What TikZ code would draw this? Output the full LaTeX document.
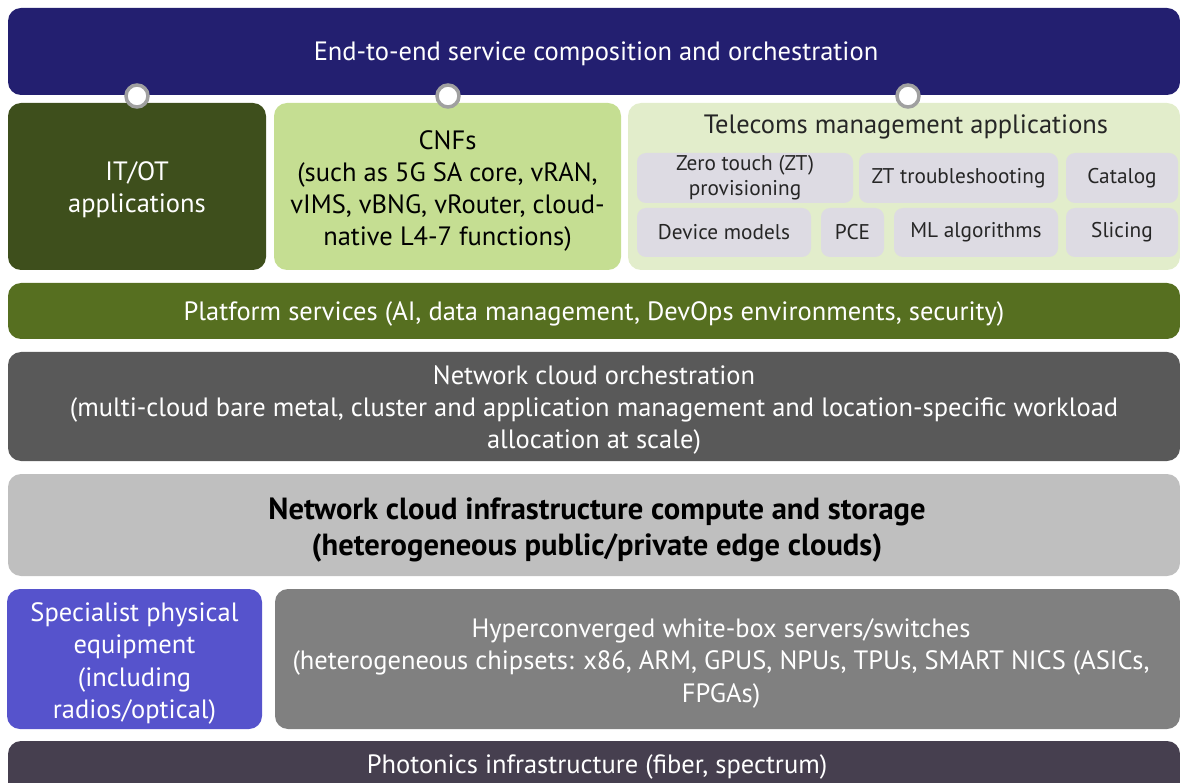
\documentclass[tikz,border=0pt]{standalone}
\usepackage{fontspec}
\setmainfont{PT Sans}
\definecolor{navy}{RGB}{35,31,112}
\definecolor{itot}{RGB}{62,79,28}
\definecolor{cnf}{RGB}{197,222,146}
\definecolor{telecom}{RGB}{226,237,203}
\definecolor{subbox}{RGB}{221,219,227}
\definecolor{platform}{RGB}{86,111,32}
\definecolor{orch}{RGB}{89,89,89}
\definecolor{infra}{RGB}{191,191,191}
\definecolor{spec}{RGB}{86,83,204}
\definecolor{hyper}{RGB}{128,128,128}
\definecolor{photon}{RGB}{70,63,79}
\definecolor{ring}{RGB}{160,160,160}
\tikzset{
  layer/.style={rounded corners=13pt, inner sep=0pt},
  sub/.style={rounded corners=9pt, fill=subbox, inner sep=0pt, align=center, text=black!85, font=\fontsize{21.3}{25}\selectfont},
  joint/.style={circle, fill=white, draw=ring, line width=3.5pt, minimum size=22pt, inner sep=0pt},
  lbl/.style={inner sep=0pt, align=center, font=\fontsize{26.5}{32}\selectfont}
}
\begin{document}
\begin{tikzpicture}[x=1pt,y=-1pt]
\useasboundingbox (0,0) rectangle (1180,783);
\begin{scope}
\clip (0,0) rectangle (1180,783);
% boxes
\node[layer, fill=navy, minimum width=1172pt, minimum height=87pt] (top) at (594,51.5) {};
\node[layer, fill=itot, minimum width=258pt, minimum height=167pt] (itot) at (137,186.5) {};
\node[layer, fill=cnf, minimum width=347pt, minimum height=167pt] (cnf) at (447.5,186.5) {};
\node[layer, fill=telecom, minimum width=552pt, minimum height=167pt] (tel) at (904,186.5) {};
\node[layer, fill=platform, minimum width=1172pt, minimum height=56pt] (plat) at (594,311) {};
\node[layer, fill=orch, minimum width=1172pt, minimum height=109pt] (orch) at (594,406.5) {};
\node[layer, fill=infra, minimum width=1172pt, minimum height=102pt] (infra) at (594,525) {};
\node[layer, fill=spec, minimum width=255pt, minimum height=140pt] (spec) at (134.5,659) {};
\node[layer, fill=hyper, minimum width=905pt, minimum height=140pt] (hyper) at (727.5,659) {};
\node[layer, fill=photon, minimum width=1172pt, minimum height=58pt] (photon) at (594,770) {};
% texts
\node[lbl, text=white] (topT) at (596,54) {End-to-end service composition and orchestration};
\node[lbl, text=white] (itotT) at (137,190) {IT/OT\\applications};
\node[lbl, text=black] (cnfT) at (447.5,191) {CNFs\\(such as 5G SA core, vRAN,\\vIMS, vBNG, vRouter, cloud-\\native L4-7 functions)};
\node[lbl, text=black!85] (telT) at (906,127) {Telecoms management applications};
\node[lbl, text=white] (platT) at (594,314) {Platform services (AI, data management, DevOps environments, security)};
\node[lbl, text=white] (orchT) at (594,409.5) {Network cloud orchestration\\(multi-cloud bare metal, cluster and application management and location-specific workload\\allocation at scale)};
\node[lbl, text=black, font=\bfseries\fontsize{30.6}{36}\selectfont] (infraT) at (597,529.5) {Network cloud infrastructure compute and storage\\(heterogeneous public/private edge clouds)};
\node[lbl, text=white, font=\fontsize{26.5}{32.5}\selectfont] (specT) at (134.5,663.5) {Specialist physical\\equipment\\(including\\radios/optical)};
\node[lbl, text=white, font=\fontsize{26.5}{32.5}\selectfont] (hyperT) at (721,663) {Hyperconverged white-box servers/switches\\(heterogeneous chipsets: x86, ARM, GPUS, NPUs, TPUs, SMART NICS (ASICs,\\FPGAs)};
\node[lbl, text=white] (photonT) at (597,767) {Photonics infrastructure (fiber, spectrum)};
% telecom sub-boxes
\node[sub, minimum width=216pt, minimum height=50pt] (ztp) at (745,178) {Zero touch (ZT)\\provisioning};
\node[sub, minimum width=199pt, minimum height=50pt] (ztt) at (958.5,178) {ZT troubleshooting};
\node[sub, minimum width=112pt, minimum height=50pt] (cat) at (1122,178) {Catalog};
\node[sub, minimum width=174pt, minimum height=49pt] (dev) at (724,232.5) {Device models};
\node[sub, minimum width=63pt, minimum height=49pt] (pce) at (852.5,232.5) {PCE};
\node[sub, minimum width=164pt, minimum height=49pt] (ml) at (976,232.5) {ML algorithms};
\node[sub, minimum width=112pt, minimum height=49pt] (slc) at (1122,232.5) {Slicing};
% joints
\node[joint] (j1) at (137,96) {};
\node[joint] (j2) at (448,96) {};
\node[joint] (j3) at (908,96) {};
\end{scope}
\end{tikzpicture}
\end{document}
